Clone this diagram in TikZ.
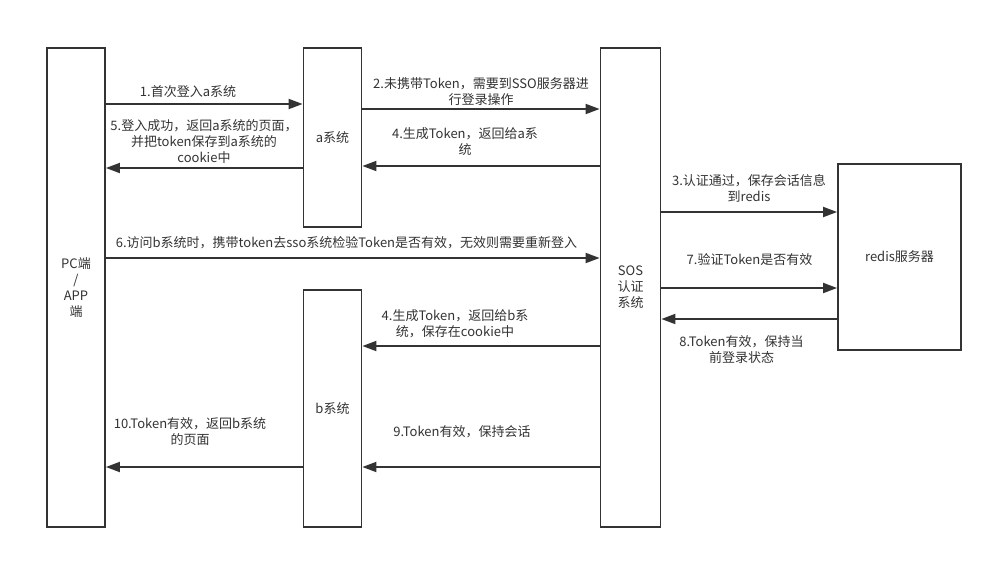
\documentclass[tikz,border=0pt]{standalone}
\usepackage{fontspec}
\setmainfont{Noto Sans CJK SC}
\usetikzlibrary{arrows.meta}
\newcommand\lblfont{\fontsize{13}{16}\selectfont}

\begin{document}
\begin{tikzpicture}[x=1pt,y=-1pt,
  box/.style={draw=black!80,line width=1.8pt,minimum width=58,inner sep=0pt,align=center,font=\lblfont,text=black!80},
  msg/.style={draw=black!80,line width=1.8pt,-{Triangle[length=14pt,width=10pt]}},
  txt/.style={align=center,font=\lblfont,text=black!80,inner sep=0pt}]
\useasboundingbox[fill=white] (0,0) rectangle (993,560);

\node[box,minimum height=479] (pc) at (76,287.5) {PC端\\/\\APP\\端};
\node[box,minimum height=179] (asys) at (332.5,137.5) {a系统};
\node[box,minimum height=237] (bsys) at (332.5,408.5) {b系统};
\node[box,minimum width=60,minimum height=479] (sos) at (630.5,287.5) {SOS\\认证\\系统};
\node[box,minimum width=123,minimum height=186] (redis) at (899.5,257) {redis服务器};

\draw[msg] (pc.east |- 0,104) -- (asys.west |- 0,104);
\draw[msg] (asys.west |- 0,168) -- (pc.east |- 0,168);
\draw[msg] (asys.east |- 0,109) -- (sos.west |- 0,109);
\draw[msg] (sos.west |- 0,166) -- (asys.east |- 0,166);
\draw[msg] (sos.east |- 0,212) -- (redis.west |- 0,212);
\draw[msg] (pc.east |- 0,258) -- (sos.west |- 0,258);
\draw[msg] (sos.east |- 0,288) -- (redis.west |- 0,288);
\draw[msg] (redis.west |- 0,319) -- (sos.east |- 0,319);
\draw[msg] (sos.west |- 0,346) -- (bsys.east |- 0,346);
\draw[msg] (sos.west |- 0,467) -- (bsys.east |- 0,467);
\draw[msg] (bsys.west |- 0,467) -- (pc.east |- 0,467);

\node[txt] (m1) at (188,92) {1.首次登入a系统};
\node[txt] (m5) at (204,142) {5.登入成功，返回a系统的页面，\\并把token保存到a系统的\\cookie中};
\node[txt] (m2) at (481,92) {2.未携带Token，需要到SSO服务器进\\行登录操作};
\node[txt] (m4a) at (465,142) {4.生成Token，返回给a系\\统};
\node[txt] (m3) at (749,188) {3.认证通过，保存会话信息\\到redis};
\node[txt] (m6) at (346.5,243) {6.访问b系统时，携带token去sso系统检验Token是否有效，无效则需要重新登入};
\node[txt] (m7) at (749.5,260) {7.验证Token是否有效};
\node[txt] (m8) at (741.5,350) {8.Token有效，保持当\\前登录状态};
\node[txt] (m4b) at (455,324) {4.生成Token，返回给b系\\统，保存在cookie中};
\node[txt] (m9) at (462,432) {9.Token有效，保持会话};
\node[txt] (m10) at (190,432) {10.Token有效，返回b系统\\的页面};

\end{tikzpicture}
\end{document}
